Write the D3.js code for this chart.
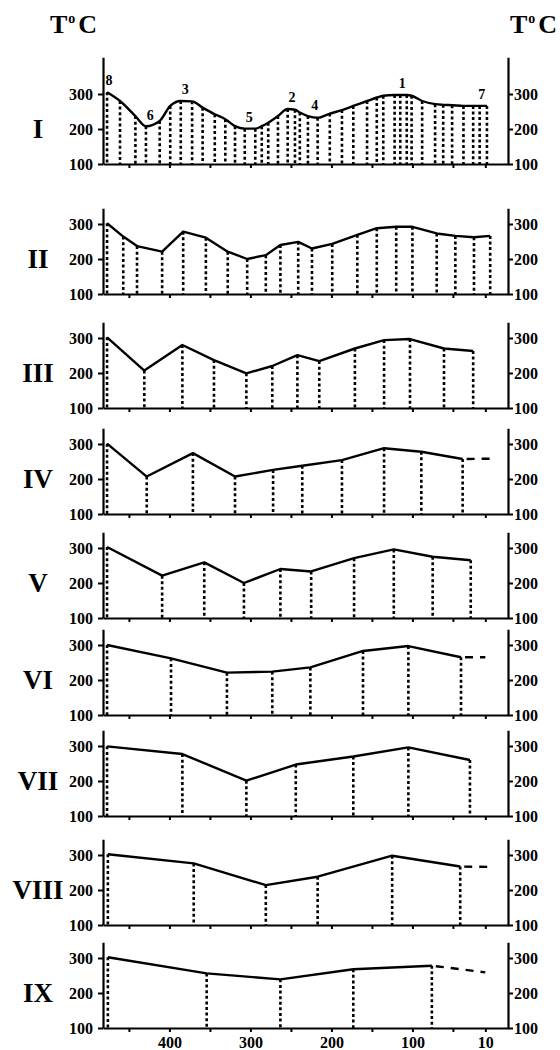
<!DOCTYPE html>
<html>
<head>
<meta charset="utf-8">
<script src="https://cdn.jsdelivr.net/npm/d3@7"></script>
<style>
body { margin: 0; background: #fff; }
svg text { font-family: "Liberation Serif", "Times New Roman", serif; font-weight: bold; fill: #000; }
</style>
</head>
<body>
<div id="chart"></div>
<script>
// profile names, top to bottom
var panels = ["I", "II", "III", "IV", "V", "VI", "VII", "VIII", "IX"];

// position along profile (x) and temperature (T, deg C) of every sample
var pos1 = [477, 461, 442, 429, 412, 399, 386, 372, 359, 344, 331, 319, 307, 294, 286, 278, 266, 254, 245, 239, 229, 217, 202, 187, 173, 156, 144, 136, 122, 115, 107, 101, 88, 72, 62, 51, 37, 25, 17, 8];
var temp1 = [305, 280, 237, 208, 223, 266, 280, 279, 261, 242, 228, 208, 201, 201, 208, 218, 237, 257, 255, 247, 237, 232, 244, 254, 266, 280, 290, 295, 297, 297, 297, 295, 280, 271, 269, 268, 266, 266, 266, 266];
var pos2 = [477, 457, 440, 409, 383, 355, 328, 304, 281, 263, 241, 224, 199, 168, 144, 120, 100, 70, 47, 24, 4];
var temp2 = [302, 264, 237, 221, 278, 261, 221, 200, 211, 240, 249, 230, 243, 269, 288, 292, 292, 273, 266, 262, 266];
var pos3 = [477, 431, 384, 345, 305, 273, 242, 215, 171, 135, 103, 61, 25];
var temp3 = [302, 207, 280, 237, 199, 220, 251, 234, 270, 294, 297, 270, 263];
var pos4 = [477, 428, 371, 319, 272, 236, 187, 135, 89, 38];
var temp4 = [301, 207, 274, 207, 226, 238, 254, 288, 278, 257];
var pos5 = [477, 409, 357, 308, 263, 225, 172, 123, 75, 28];
var temp5 = [303, 221, 259, 200, 240, 233, 271, 296, 275, 265];
var pos6 = [477, 398, 329, 273, 226, 161, 105, 40];
var temp6 = [300, 262, 221, 224, 236, 283, 297, 265];
var pos7 = [477, 384, 305, 244, 173, 105, 29];
var temp7 = [299, 277, 201, 247, 270, 296, 260];
var pos8 = [476, 370, 281, 217, 125, 41];
var temp8 = [302, 276, 214, 238, 298, 267];
var pos9 = [476, 354, 263, 173, 76];
var temp9 = [302, 256, 239, 268, 278];

var allPos = [pos1, pos2, pos3, pos4, pos5, pos6, pos7, pos8, pos9];
var allTemp = [temp1, temp2, temp3, temp4, temp5, temp6, temp7, temp8, temp9];

// dashed continuation at the right end (null = none)
var tailPos = [null, null, null, 4, null, 10, null, 7, 10];
var tailTemp = [null, null, null, 258, null, 265, null, 266, 259];

// numbered extrema on profile I
var peakLabels = ["8", "6", "3", "5", "2", "4", "1", "7"];
var peakPos = [477, 426, 383, 304, 251, 223, 115, 17];
var peakTemp = [305, 207, 281, 201, 257, 233, 297, 266];

var xTicks = [450, 400, 350, 300, 250, 200, 150, 100, 50, 10];
var xLabels = [400, 300, 200, 100, 10];
var yTicks = [100, 200, 300];

var serif = '"Liberation Serif", "Times New Roman", serif';
var width = 560, height = 1050;
var panelBase = [164, 294, 408, 514, 618, 715, 816, 925, 1028];
var pxPerDeg = 0.35;

var svg = d3.select("#chart").append("svg")
	.attr("width", width)
	.attr("height", height);

var x = d3.scaleLinear().domain([482, -18]).range([103, 508]);

// T°C headers
[50, 510].forEach(function(px) {
	var t = svg.append("text").attr("x", px).attr("y", 33)
		.style("font-family", serif).style("font-size", "26px");
	t.append("tspan").text("T");
	t.append("tspan").style("font-size", "14px").attr("dy", -10).attr("dx", 1).text("o");
	t.append("tspan").attr("dy", 10).attr("dx", 3).text("C");
});

panels.forEach(function(name, i) {
	var base = panelBase[i];
	var top = i == 0 ? 405 : 345;
	var y = d3.scaleLinear().domain([100, top]).range([base, base - (top - 100) * pxPerDeg]);
	var g = svg.append("g");

	var pts = allPos[i].map(function(p, k) { return [p, allTemp[i][k]]; });

	// dotted drop lines
	g.selectAll("line.drop")
		.data(pts)
		.enter().append("line")
		.attr("class", "drop")
		.attr("x1", function(d) { return x(d[0]); })
		.attr("x2", function(d) { return x(d[0]); })
		.attr("y1", function(d) { return y(d[1]); })
		.attr("y2", y(100))
		.attr("stroke", "#000")
		.attr("stroke-width", 2.6)
		.attr("stroke-dasharray", "3,2.6");

	var line = d3.line()
		.x(function(d) { return x(d[0]); })
		.y(function(d) { return y(d[1]); })
		.curve(i == 0 ? d3.curveMonotoneX : d3.curveLinear);

	g.append("path")
		.datum(pts)
		.attr("d", line)
		.attr("fill", "none")
		.attr("stroke", "#000")
		.attr("stroke-width", 2.4)
		.attr("stroke-linejoin", "round");

	if (tailPos[i] != null) {
		var last = pts[pts.length - 1];
		g.append("path")
			.datum([last, [tailPos[i], tailTemp[i]]])
			.attr("d", d3.line().x(function(d) { return x(d[0]); }).y(function(d) { return y(d[1]); }))
			.attr("fill", "none")
			.attr("stroke", "#000")
			.attr("stroke-width", 2.4)
			.attr("stroke-dasharray", "0,4,8,3");
	}

	// axes
	var left = g.append("g")
		.attr("transform", "translate(" + x.range()[0] + ",0)")
		.call(d3.axisLeft(y).tickValues(yTicks).tickSize(5).tickSizeOuter(0).tickPadding(5));
	var right = g.append("g")
		.attr("transform", "translate(" + x.range()[1] + ",0)")
		.call(d3.axisRight(y).tickValues(yTicks).tickSize(5).tickSizeOuter(0).tickPadding(1));
	var bottom = g.append("g")
		.attr("transform", "translate(0," + base + ")")
		.call(d3.axisBottom(x).tickValues(xTicks).tickSize(4).tickSizeOuter(0).tickPadding(5)
			.tickFormat(function(d) { return (i == panels.length - 1 && xLabels.indexOf(d) >= 0) ? d : ""; }));

	[left, right, bottom].forEach(function(a) {
		a.attr("font-family", null).attr("font-size", null);
		a.select(".domain").attr("stroke-width", 2.2);
		a.selectAll(".tick line").attr("stroke-width", 2);
		a.selectAll("text").style("font-family", serif).style("font-size", "16px");
	});

	g.append("text")
		.attr("x", 38)
		.attr("y", y(200))
		.attr("dy", "0.35em")
		.attr("text-anchor", "middle")
		.style("font-family", serif)
		.style("font-size", "27px")
		.text(name);

	if (i == 0) {
		g.selectAll("text.peak")
			.data(peakLabels)
			.enter().append("text")
			.attr("class", "peak")
			.attr("x", function(d, k) { return x(peakPos[k]) + 2; })
			.attr("y", function(d, k) { return y(peakTemp[k]) - 7; })
			.attr("text-anchor", "middle")
			.style("font-family", serif)
			.style("font-size", "14px")
			.text(function(d) { return d; });
	}
});
</script>
</body>
</html>
